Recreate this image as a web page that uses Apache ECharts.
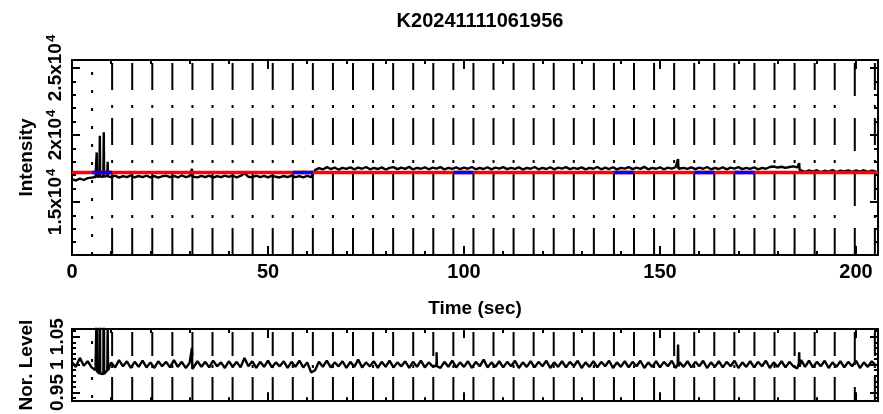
<!DOCTYPE html>
<html>
<head>
<meta charset="utf-8">
<script src="https://cdn.jsdelivr.net/npm/echarts@6/dist/echarts.min.js"></script>
<style>
  html, body { margin: 0; padding: 0; background: #fff; }
  #main { width: 883px; height: 414px; }
</style>
</head>
<body>
<div id="main"></div>
<script>
// light curve, one sample per second from t = 0
var intensity = [
    16700, 16600, 16750, 16640, 16780, 16820, 16860, 16900, 16870, 16930,
    16860, 16970, 16820, 16930, 16850, 16980, 16830, 16940, 16860, 16960,
    16840, 16930, 16810, 16920, 16970, 16850, 16940, 16830, 16980, 16860,
    16930, 16990, 16840, 16950, 16860, 16970, 16820, 16930, 16850, 16960,
    16870, 16980, 16830, 16940, 17150, 16880, 16850, 16970, 16860, 16950,
    16840, 16960, 16880, 16830, 16940, 16850, 16970, 16860, 16930, 16840,
    16950, 16860, 17380, 17530, 17430, 17600, 17460, 17570, 17410, 17550,
    17470, 17590, 17430, 17560, 17480, 17610, 17440, 17550, 17460, 17580,
    17420, 17540, 17600, 17450, 17560, 17470, 17620, 17430, 17550, 17480,
    17590, 17440, 17560, 17490, 17600, 17430, 17540, 17470, 17580, 17450,
    17560, 17480, 17610, 17440, 17550, 17460, 17590, 17430, 17560, 17490,
    17600, 17450, 17550, 17470, 17580, 17420, 17540, 17480, 17610, 17440,
    17550, 17460, 17590, 17430, 17560, 17490, 17600, 17450, 17550, 17470,
    17580, 17430, 17540, 17480, 17610, 17440, 17560, 17460, 17590, 17430,
    17550, 17490, 17600, 17450, 17560, 17470, 17620, 17440, 17550, 17480,
    17590, 17430, 17560, 17490, 17600, 17460, 17550, 17470, 17580, 17450,
    17560, 17480, 17610, 17440, 17550, 17460, 17590, 17430, 17560, 17490,
    17600, 17450, 17550, 17470, 17580, 17430, 17540, 17480, 17610, 17650,
    17570, 17630, 17540, 17610, 17660, 17580, 17330, 17240, 17360, 17270,
    17370, 17220, 17330, 17260, 17380, 17230, 17340, 17280, 17360, 17250,
    17350, 17270, 17370, 17240, 17340, 17290
];
// short spikes [time, value]
var intensitySpikes = [
    [6.2, 16880], [6.3, 18700], [6.4, 16870],
    [7.0, 16890], [7.1, 19950], [7.2, 16900],
    [8.0, 16880], [8.1, 20200], [8.2, 16900],
    [9.0, 16920], [9.1, 18000], [9.2, 16910],
    [30.5, 16950], [30.6, 17480], [30.7, 16900],
    [154.5, 17500], [154.6, 18200], [154.7, 17480],
    [185.4, 17560], [185.5, 17900], [185.6, 17400]
];
var normLevel = [
    1.004, 0.996, 1.012, 0.998, 1.006, 0.995, 0.990, 0.984, 0.983, 0.990,
    1.004, 0.995, 1.008, 0.997, 1.006, 0.994, 1.005, 0.996, 1.007, 0.995,
    1.004, 0.994, 1.006, 0.997, 1.005, 0.995, 1.008, 0.996, 1.005, 0.994,
    1.003, 0.990, 1.006, 0.996, 1.005, 0.995, 1.007, 0.997, 1.004, 0.994,
    1.006, 0.996, 1.005, 0.995, 1.012, 0.997, 1.006, 0.994, 1.005, 0.996,
    1.007, 0.995, 1.004, 0.997, 1.006, 0.994, 1.005, 0.996, 1.007, 0.995,
    1.004, 0.986, 0.990, 1.005, 0.996, 1.007, 0.995, 1.004, 0.997, 1.006,
    0.994, 1.005, 0.996, 1.009, 0.995, 1.004, 0.997, 1.006, 0.994, 1.005,
    0.996, 1.007, 0.995, 1.004, 0.997, 1.006, 0.994, 1.005, 0.996, 1.007,
    0.995, 1.004, 0.997, 1.006, 0.994, 1.005, 0.996, 1.007, 0.995, 1.004,
    0.996, 1.006, 0.994, 1.005, 0.997, 1.009, 0.995, 1.004, 0.996, 1.006,
    0.995, 1.005, 0.997, 1.007, 0.994, 1.004, 0.996, 1.006, 0.995, 1.005,
    0.997, 1.007, 0.994, 1.004, 0.996, 1.006, 0.995, 1.005, 0.997, 1.007,
    0.994, 1.004, 0.996, 1.006, 0.995, 1.005, 0.997, 1.007, 0.994, 1.004,
    0.996, 1.006, 0.995, 1.005, 0.997, 1.007, 0.994, 1.004, 0.996, 1.006,
    0.995, 1.005, 0.997, 1.007, 0.994, 1.004, 0.996, 1.006, 0.995, 1.005,
    0.997, 1.007, 0.994, 1.004, 0.996, 1.006, 0.995, 1.005, 0.997, 1.007,
    0.994, 1.004, 0.996, 1.006, 0.995, 1.005, 0.997, 1.007, 0.994, 1.004,
    0.996, 1.006, 0.995, 1.005, 0.997, 0.993, 1.008, 0.996, 1.007, 0.995,
    1.005, 0.997, 1.007, 0.994, 1.004, 0.996, 1.006, 0.995, 1.005, 0.997,
    1.007, 0.994, 1.004, 0.996, 1.006, 0.999
];
var normSpikes = [
    [6.2, 0.992], [6.3, 1.107], [6.4, 0.988],
    [7.0, 0.985], [7.1, 1.180], [7.2, 0.984],
    [8.0, 0.984], [8.1, 1.195], [8.2, 0.983],
    [9.0, 0.988], [9.1, 1.065], [9.2, 0.990],
    [30.5, 1.000], [30.6, 1.030], [30.7, 0.992],
    [92.9, 0.998], [93.0, 1.022], [93.1, 0.997],
    [154.5, 1.000], [154.6, 1.036], [154.7, 0.997],
    [185.4, 1.002], [185.5, 1.022], [185.6, 0.996]
];
var modelLevel = 17200;
var blueSegments = [[5.12, 10.24], [56.32, 61.44], [97.28, 102.4], [138.24, 143.36], [158.72, 163.84], [168.96, 174.08]];
var markerTimes = [5.12, 10.24, 15.36, 20.48, 25.6, 30.72, 35.84, 40.96, 46.08, 51.2,
    56.32, 61.44, 66.56, 71.68, 76.8, 81.92, 87.04, 92.16, 97.28, 102.4,
    107.52, 112.64, 117.76, 122.88, 128, 133.12, 138.24, 143.36, 148.48, 153.6,
    158.72, 163.84, 168.96, 174.08, 179.2, 184.32, 189.44, 194.56, 199.68, 204.8];

var timeRange = [0, 205.6];
var intRange = [11040, 25600];
var normRange = [0.9345, 1.0638];
var timeMajor = [0, 50, 100, 150, 200];
var timeMinor = [10, 20, 30, 40, 60, 70, 80, 90, 110, 120, 130, 140, 160, 170, 180, 190];
var intMajor = [15000, 20000, 25000];
var intMantissa = ['1.5', '2', '2.5'];
var intMinor = [12000, 13000, 14000, 16000, 17000, 18000, 19000, 21000, 22000, 23000, 24000];
var normMajor = [0.95, 1, 1.05];
var normLabels = ['0.95', '1', '1.05'];
var normMinor = [0.94, 0.96, 0.97, 0.98, 0.99, 1.01, 1.02, 1.03, 1.04, 1.06];

var FONT = 'Liberation Sans';
var txt = { color: '#000', fontFamily: FONT, fontWeight: 'bold', fontSize: 19 };
var supRich = {
    b: { color: '#000', fontFamily: FONT, fontWeight: 'bold', fontSize: 19, lineHeight: 22 },
    s: { color: '#000', fontFamily: FONT, fontWeight: 'bold', fontSize: 13, lineHeight: 22, verticalAlign: 'top', padding: [0, 0, 0, 1] }
};

function bySort(a, b) { return a[0] - b[0]; }
var intensityData = intensity.map(function (v, i) { return [i, v]; }).concat(intensitySpikes).sort(bySort);
var normData = normLevel.map(function (v, i) { return [i, v]; }).concat(normSpikes).sort(bySort);
var blueData = [];
blueSegments.forEach(function (s) {
    blueData.push([s[0], modelLevel], [s[1], modelLevel], [s[1], '-']);
});

function xAxisDef(grid, pos, ticks, len, line, labels, name) {
    return {
        type: 'value', gridIndex: grid, position: pos,
        min: timeRange[0], max: timeRange[1],
        axisLine: { show: line, onZero: false, lineStyle: { color: '#000', width: 2 } },
        axisTick: { show: true, inside: true, length: len, customValues: ticks, lineStyle: { color: '#000', width: 2 } },
        axisLabel: labels ? Object.assign({ show: true, margin: 7, customValues: labels }, txt, { fontSize: 20 }) : { show: false },
        splitLine: { show: false },
        name: name || '', nameLocation: 'middle', nameGap: 44, nameTextStyle: txt
    };
}
function yAxisDef(grid, pos, range, ticks, len, line, labelVals, labelFn, name) {
    return {
        type: 'value', gridIndex: grid, position: pos,
        min: range[0], max: range[1],
        axisLine: { show: line, onZero: false, lineStyle: { color: '#000', width: 2 } },
        axisTick: { show: true, inside: true, length: len, customValues: ticks, lineStyle: { color: '#000', width: 2 } },
        axisLabel: labelVals ? Object.assign({
            show: true, rotate: 90, margin: 5, customValues: labelVals,
            formatter: labelFn, rich: supRich
        }, txt) : { show: false },
        splitLine: { show: false },
        name: name || '', nameLocation: 'middle', nameGap: 36, nameTextStyle: txt
    };
}

function intLabel(v) {
    var i = intMajor.indexOf(v);
    return i >= 0 ? '{b|' + intMantissa[i] + 'x10}{s|4}' : '';
}
function normLabel(v) {
    var i = normMajor.indexOf(v);
    return i >= 0 ? normLabels[i] : '';
}

function markerSeries(xi, yi, range, dashDot, offset) {
    return {
        type: 'custom', xAxisIndex: xi, yAxisIndex: yi, z: 1, silent: true,
        data: markerTimes.map(function (t) { return [t, range[0]]; }),
        renderItem: function (params, api) {
            var t = api.value(0);
            var top = api.coord([t, range[1]]);
            var bot = api.coord([t, range[0]]);
            var dash = dashDot, off = offset;
            if (params.dataIndex === 0) { dash = [3, 15]; off = 6; }
            else if (params.dataIndex === 38) { dash = [33, 22]; off = 52; }
            return {
                type: 'line',
                shape: { x1: top[0], y1: top[1], x2: bot[0], y2: bot[1] },
                style: { stroke: '#000', lineWidth: 2, lineDash: dash, lineDashOffset: off }
            };
        }
    };
}

var myChart = echarts.init(document.getElementById('main'), null, { renderer: 'canvas' });
var option = {
    backgroundColor: '#fff',
    animation: false,
    title: {
        text: 'K20241111061956', left: 475, top: 6, textAlign: 'center',
        textStyle: Object.assign({}, txt, { fontSize: 20 })
    },
    grid: [
        { left: 72, right: 5, top: 60, height: 195 },
        { left: 72, right: 5, top: 329, height: 75 }
    ],
    xAxis: [
        xAxisDef(0, 'bottom', timeMajor, 9, true, timeMajor, 'Time (sec)'),
        xAxisDef(0, 'bottom', timeMinor, 4, false),
        xAxisDef(0, 'top', timeMajor, 9, true),
        xAxisDef(0, 'top', timeMinor, 4, false),
        xAxisDef(1, 'bottom', timeMajor, 9, true),
        xAxisDef(1, 'bottom', timeMinor, 4, false),
        xAxisDef(1, 'top', timeMajor, 9, true),
        xAxisDef(1, 'top', timeMinor, 4, false)
    ],
    yAxis: [
        yAxisDef(0, 'left', intRange, intMajor, 8, true, intMajor, intLabel, 'Intensity'),
        yAxisDef(0, 'left', intRange, intMinor, 4, false),
        yAxisDef(0, 'right', intRange, intMajor, 8, true),
        yAxisDef(0, 'right', intRange, intMinor, 4, false),
        yAxisDef(1, 'left', normRange, normMajor, 8, true, normMajor, normLabel, 'Nor. Level'),
        yAxisDef(1, 'left', normRange, normMinor, 4, false),
        yAxisDef(1, 'right', normRange, normMajor, 8, true),
        yAxisDef(1, 'right', normRange, normMinor, 4, false)
    ],
    series: [
        markerSeries(0, 0, intRange, [27, 15, 3, 10], 52),
        markerSeries(4, 4, normRange, [24, 9, 3, 9], 42),
        {
            type: 'line', xAxisIndex: 0, yAxisIndex: 0, z: 2, data: intensityData,
            showSymbol: false, silent: true, lineStyle: { color: '#000', width: 2.4 }
        },
        {
            type: 'line', xAxisIndex: 0, yAxisIndex: 0, z: 3,
            data: [[timeRange[0], modelLevel], [timeRange[1], modelLevel]],
            showSymbol: false, silent: true, lineStyle: { color: '#ff0000', width: 3.5 }
        },
        {
            type: 'line', xAxisIndex: 0, yAxisIndex: 0, z: 4, data: blueData, connectNulls: false,
            showSymbol: false, silent: true, lineStyle: { color: '#0000ff', width: 3.5 }
        },
        {
            type: 'line', xAxisIndex: 4, yAxisIndex: 4, z: 2, data: normData,
            showSymbol: false, silent: true, lineStyle: { color: '#000', width: 2.4 }
        }
    ]
};
myChart.setOption(option);
window.onresize = myChart.resize;
</script>
</body>
</html>
